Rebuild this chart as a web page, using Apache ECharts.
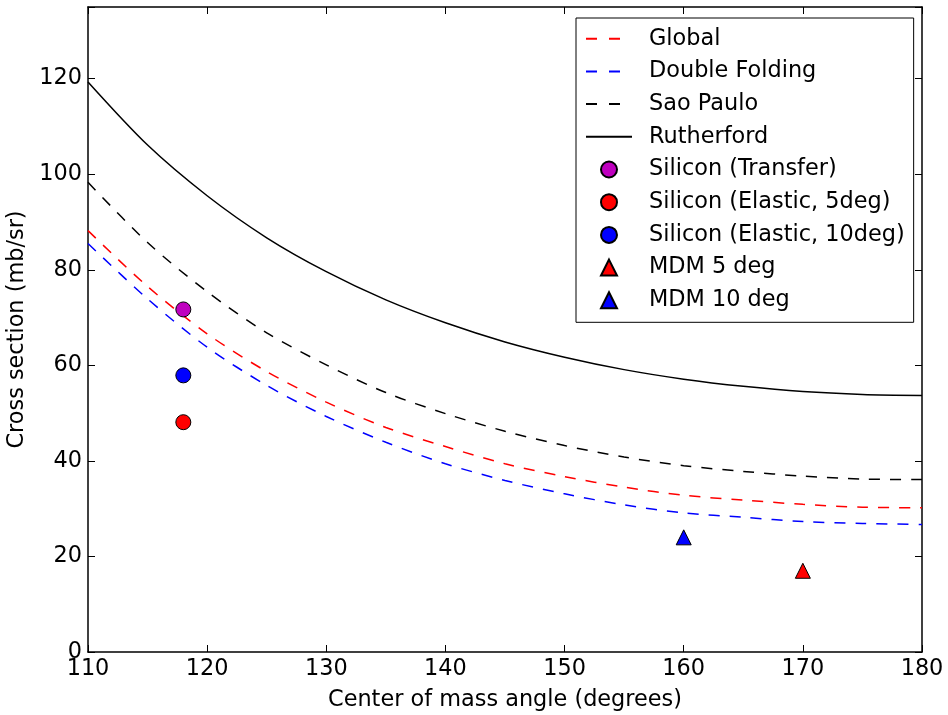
<!DOCTYPE html>
<html>
<head>
<meta charset="utf-8">
<script src="https://cdn.jsdelivr.net/npm/echarts@6/dist/echarts.min.js"></script>
<style>html,body{margin:0;padding:0;background:#fff;}#chart{width:948px;height:715px;}</style>
</head>
<body>
<div id="chart"></div>
<script>
// ---- data ----
const angles = [110, 115, 120, 125, 130, 135, 140, 145, 150, 155, 160, 165, 170, 175, 180];
const globalCS = [88.2, 76.5, 66.6, 58.7, 52.3, 47.0, 43.0, 39.4, 36.7, 34.5, 32.8, 31.8, 30.9, 30.3, 30.2];
const doubleFoldingCS = [85.5, 73.9, 63.8, 55.8, 49.3, 43.9, 39.4, 35.9, 33.1, 30.8, 29.1, 28.2, 27.3, 26.9, 26.7];
const saoPauloCS = [98.3, 85.7, 75.4, 66.8, 60.1, 54.3, 49.9, 46.2, 43.2, 40.8, 39.0, 37.8, 36.8, 36.2, 36.1];
const rutherfordCS = [119.3, 106.1, 95.5, 86.7, 79.6, 73.7, 68.9, 64.9, 61.7, 59.1, 57.1, 55.6, 54.5, 53.9, 53.7];

const siliconTransfer = [[118, 71.7]];
const siliconElastic5 = [[118, 48.1]];
const siliconElastic10 = [[118, 57.9]];
const mdm5 = [[170, 17.0]];
const mdm10 = [[160, 24.0]];

const xTicks = { min: 110, max: 180, step: 10 };
const yTicks = { min: 0, max: 135, step: 20 };

const FONT = 'DejaVu Sans';
const FS = 22.4;
const pair = (xs, ys) => xs.map((x, i) => [x, ys[i]]);

function lineSeries(name, data, color, dashed) {
  return {
    name, type: 'line', data, smooth: 0.3, showSymbol: false, symbol: 'none',
    xAxisIndex: 0, yAxisIndex: 0,
    lineStyle: { color, width: 1.5, type: dashed ? [11, 10] : 'solid' },
    itemStyle: { color },
    emphasis: { disabled: true }, z: 2
  };
}
// markers drawn as point-only line series so the legend keeps the symbol's aspect
function markerSeries(name, data, color, symbol) {
  return {
    name, type: 'line', data, symbol, symbolSize: 15, showSymbol: true, showAllSymbol: true,
    xAxisIndex: 0, yAxisIndex: 0,
    lineStyle: { width: 0, opacity: 0 },
    itemStyle: { color, borderColor: '#000', borderWidth: 1, opacity: 1 },
    emphasis: { disabled: true }, z: 5
  };
}

const axisCommon = {
  axisLine: { show: true, onZero: false, lineStyle: { color: '#000', width: 1.5 } },
  axisTick: { show: true, inside: true, length: 7, lineStyle: { color: '#000', width: 1 } },
  splitLine: { show: false }
};

const dashedLegend = { type: [11, 12, 11, 30] };
const hiddenSym = { opacity: 0 };

const chart = echarts.init(document.getElementById('chart'), null, { renderer: 'canvas' });
chart.setOption({
  animation: false,
  backgroundColor: '#fff',
  grid: { left: 88, right: 26, top: 7, bottom: 63, containLabel: false, outerBoundsMode: 'none' },
  xAxis: [
    Object.assign({}, axisCommon, {
      type: 'value', position: 'bottom', min: xTicks.min, max: xTicks.max, interval: xTicks.step,
      name: 'Center of mass angle (degrees)', nameLocation: 'middle', nameGap: 37,
      nameTextStyle: { fontFamily: FONT, fontSize: FS, color: '#000' },
      axisLabel: { fontFamily: FONT, fontSize: FS, color: '#000', margin: 6 }
    }),
    Object.assign({}, axisCommon, {
      type: 'value', position: 'top', min: xTicks.min, max: xTicks.max, interval: xTicks.step,
      axisLabel: { show: false }
    })
  ],
  yAxis: [
    Object.assign({}, axisCommon, {
      type: 'value', position: 'left', min: yTicks.min, max: yTicks.max, interval: yTicks.step,
      name: 'Cross section (mb/sr)', nameLocation: 'middle', nameGap: 50,
      nameTextStyle: { fontFamily: FONT, fontSize: FS, color: '#000' },
      axisLabel: { fontFamily: FONT, fontSize: FS, color: '#000', margin: 6,
        formatter: v => (v % yTicks.step === 0 ? String(v) : '') }
    }),
    Object.assign({}, axisCommon, {
      type: 'value', position: 'right', min: yTicks.min, max: yTicks.max, interval: yTicks.step,
      axisLabel: { show: false }
    })
  ],
  legend: {
    orient: 'vertical', left: 576, top: 18, align: 'left',
    padding: [8.7, 9, 10, 9], itemGap: 8.7, itemWidth: 46, itemHeight: 20,
    borderColor: '#000', borderWidth: 1, borderRadius: 0, backgroundColor: '#fff',
    textStyle: { fontFamily: FONT, fontSize: FS, color: '#000', lineHeight: 24, padding: [0, 0, 0, 12] },
    data: [
      { name: 'Global', itemStyle: hiddenSym, lineStyle: dashedLegend },
      { name: 'Double Folding', itemStyle: hiddenSym, lineStyle: dashedLegend },
      { name: 'Sao Paulo', itemStyle: hiddenSym, lineStyle: dashedLegend },
      { name: 'Rutherford', itemStyle: hiddenSym },
      'Silicon (Transfer)', 'Silicon (Elastic, 5deg)', 'Silicon (Elastic, 10deg)', 'MDM 5 deg', 'MDM 10 deg'
    ]
  },
  series: [
    lineSeries('Global', pair(angles, globalCS), '#ff0000', true),
    lineSeries('Double Folding', pair(angles, doubleFoldingCS), '#0000ff', true),
    lineSeries('Sao Paulo', pair(angles, saoPauloCS), '#000000', true),
    lineSeries('Rutherford', pair(angles, rutherfordCS), '#000000', false),
    markerSeries('Silicon (Transfer)', siliconTransfer, '#bf00bf', 'circle'),
    markerSeries('Silicon (Elastic, 5deg)', siliconElastic5, '#ff0000', 'circle'),
    markerSeries('Silicon (Elastic, 10deg)', siliconElastic10, '#0000ff', 'circle'),
    markerSeries('MDM 5 deg', mdm5, '#ff0000', 'triangle'),
    markerSeries('MDM 10 deg', mdm10, '#0000ff', 'triangle')
  ]
});
</script>
</body>
</html>
